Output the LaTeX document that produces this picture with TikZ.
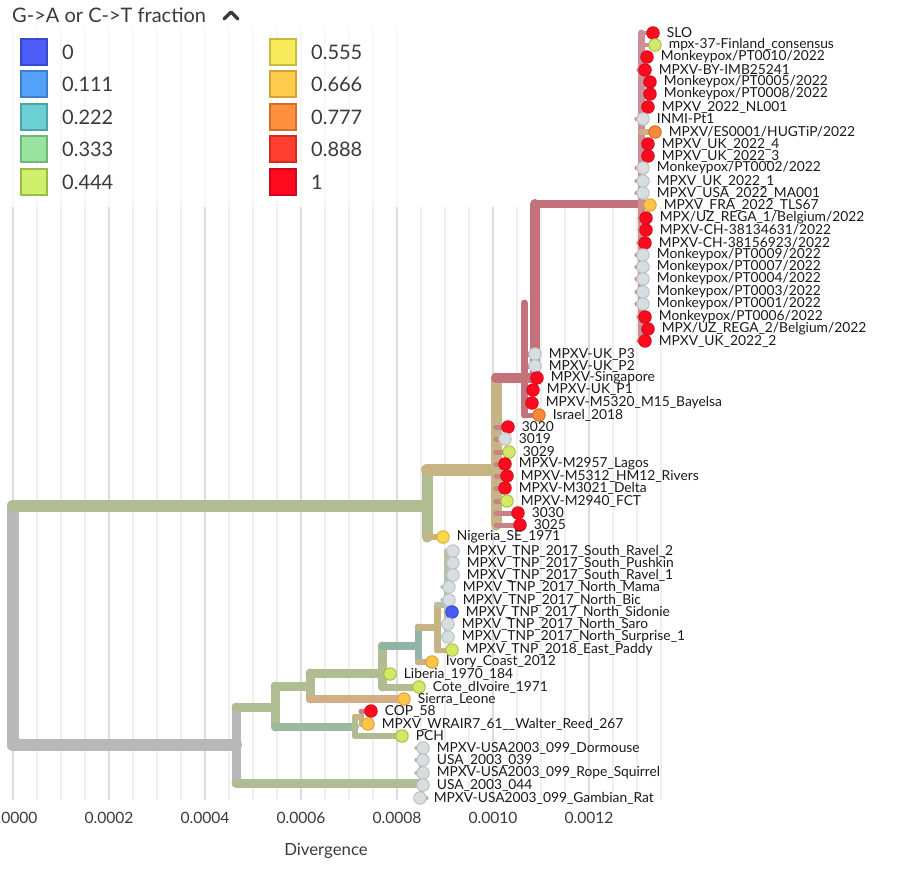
\documentclass[tikz,border=0pt]{standalone}
\usepackage{fontspec}
\setmainfont{Lato}
\usepackage{tikz}
\usetikzlibrary{positioning,backgrounds}

\definecolor{gridmaj}{HTML}{DCDCDC}
\definecolor{gridmin}{HTML}{EFEFEF}
\definecolor{txt}{HTML}{1A1A1A}
\definecolor{axtxt}{HTML}{3A3A3A}
% branch colours
\definecolor{bgray}{HTML}{B8B8BA}
\definecolor{bsage}{HTML}{B0BD93}
\definecolor{btan}{HTML}{C7B485}
\definecolor{brose}{HTML}{C3717A}
\definecolor{bpale}{HTML}{CB8F95}
\definecolor{bpink}{HTML}{C98088}
\definecolor{bteal}{HTML}{93B3A6}
\definecolor{btsage}{HTML}{9EB89E}
\definecolor{bpeach}{HTML}{D2AE86}
\definecolor{blsage}{HTML}{B5C2A6}
% tip colours
\definecolor{cred}{HTML}{FE0A1F}   \definecolor{credb}{HTML}{D50A1A}
\definecolor{cgr}{HTML}{D8DDE0}    \definecolor{cgrb}{HTML}{B9C0C5}
\definecolor{cyg}{HTML}{D2E868}    \definecolor{cygb}{HTML}{A9BA3F}
\definecolor{cyel}{HTML}{F9D84A}   \definecolor{cyelb}{HTML}{D7B02E}
\definecolor{cora}{HTML}{FCC448}   \definecolor{corab}{HTML}{DDA030}
\definecolor{cor7}{HTML}{FA8A38}   \definecolor{cor7b}{HTML}{D86A20}
\definecolor{cblu}{HTML}{4A5CF2}   \definecolor{cblub}{HTML}{3446C8}
% legend colours
\definecolor{l0}{HTML}{4C5CF6}   \definecolor{l0b}{HTML}{3A49C8}
\definecolor{l1}{HTML}{54A2F8}   \definecolor{l1b}{HTML}{3E7FCB}
\definecolor{l2}{HTML}{6BCFD4}   \definecolor{l2b}{HTML}{4FA3A5}
\definecolor{l3}{HTML}{98E39E}   \definecolor{l3b}{HTML}{72B77A}
\definecolor{l4}{HTML}{CFF06C}   \definecolor{l4b}{HTML}{9DBB47}
\definecolor{l5}{HTML}{F6EA5A}   \definecolor{l5b}{HTML}{C8BB3D}
\definecolor{l6}{HTML}{FECB4C}   \definecolor{l6b}{HTML}{D4A232}
\definecolor{l7}{HTML}{FE913E}   \definecolor{l7b}{HTML}{D26E28}
\definecolor{l8}{HTML}{FF3E2F}   \definecolor{l8b}{HTML}{D22A20}
\definecolor{l9}{HTML}{FF0A1E}   \definecolor{l9b}{HTML}{D0061A}

\begin{document}
\begin{tikzpicture}[
    x=1pt,y=-1pt,
    br/.style={line width=#1, line cap=round},
    tip/.style={circle,draw,inner sep=0pt,minimum size=12.5pt,line width=0.9pt},
    tipred/.style={tip,fill=cred,draw=credb},
    tipgray/.style={tip,fill=cgr,draw=cgrb},
    tipyg/.style={tip,fill=cyg,draw=cygb},
    tipyel/.style={tip,fill=cyel,draw=cyelb},
    tipora/.style={tip,fill=cora,draw=corab},
    tipor7/.style={tip,fill=cor7,draw=cor7b},
    tipblue/.style={tip,fill=cblu,draw=cblub},
    lab/.style={font=\fontsize{13.8}{13.8}\selectfont,text=txt,inner sep=1pt,xshift=6pt},
    sw/.style={rectangle,minimum size=26pt,inner sep=0pt,line width=2pt},
    leg/.style={font=\fontsize{20}{20}\selectfont,text=axtxt,inner sep=1pt},
    tick/.style={font=\fontsize{15.6}{15.6}\selectfont,text=axtxt,inner sep=0pt}
    ]
    \useasboundingbox (0,0) rectangle (914,875);
    \clip (0,0) rectangle (914,875);

    % legend
    \node[font=\fontsize{20}{20}\selectfont,text=axtxt,anchor=west,inner sep=0pt] (ttl) at (12,15) {G->A or C->T fraction};
    \draw[line width=3.5pt,line cap=round,line join=round,axtxt] (224,19) -- (231,12) -- (238,19);
    \node[sw,fill=l0,draw=l0b] (sw0) at (34,52) {};
    \node[sw,fill=l1,draw=l1b] (sw1) at (34,84) {};
    \node[sw,fill=l2,draw=l2b] (sw2) at (34,117) {};
    \node[sw,fill=l3,draw=l3b] (sw3) at (34,149) {};
    \node[sw,fill=l4,draw=l4b] (sw4) at (34,182) {};
    \node[sw,fill=l5,draw=l5b] (sw5) at (283,52) {};
    \node[sw,fill=l6,draw=l6b] (sw6) at (283,84) {};
    \node[sw,fill=l7,draw=l7b] (sw7) at (283,117) {};
    \node[sw,fill=l8,draw=l8b] (sw8) at (283,149) {};
    \node[sw,fill=l9,draw=l9b] (sw9) at (283,182) {};
    \foreach \i/\t in {0/0,1/0.111,2/0.222,3/0.333,4/0.444,5/0.555,6/0.666,7/0.777,8/0.888,9/1}
      \node[leg,right=13pt of sw\i] (lg\i) {\t};

    % 2022 clade
    \node[tipred,label={[lab]right:SLO}] (slo) at (653,33) {};
    \node[tipyg,label={[lab]right:mpx-37-Finland\_consensus}] (fin) at (655,45) {};
    \node[tipred,label={[lab]right:Monkeypox/PT0010/2022}] (pt10) at (647,57) {};
    \node[tipred,label={[lab]right:MPXV-BY-IMB25241}] (by) at (645,70) {};
    \node[tipred,label={[lab]right:Monkeypox/PT0005/2022}] (pt05) at (650,82) {};
    \node[tipred,label={[lab]right:Monkeypox/PT0008/2022}] (pt08) at (650,94) {};
    \node[tipred,label={[lab]right:MPXV\_2022\_NL001}] (nl) at (648,107) {};
    \node[tipgray,label={[lab]right:INMI-Pt1}] (inmi) at (643,119) {};
    \node[tipor7,label={[lab]right:MPXV/ES0001/HUGTiP/2022}] (es) at (655,132) {};
    \node[tipred,label={[lab]right:MPXV\_UK\_2022\_4}] (uk4) at (648,144) {};
    \node[tipred,label={[lab]right:MPXV\_UK\_2022\_3}] (uk3) at (648,156) {};
    \node[tipgray,label={[lab]right:Monkeypox/PT0002/2022}] (pt02) at (643,168) {};
    \node[tipgray,label={[lab]right:MPXV\_UK\_2022\_1}] (uk1) at (643,181) {};
    \node[tipgray,label={[lab]right:MPXV\_USA\_2022\_MA001}] (usa22) at (643,193) {};
    \node[tipora,label={[lab]right:MPXV\_FRA\_2022\_TLS67}] (fra) at (650,205) {};
    \node[tipred,label={[lab]right:MPX/UZ\_REGA\_1/Belgium/2022}] (uz1) at (646,218) {};
    \node[tipred,label={[lab]right:MPXV-CH-38134631/2022}] (ch1) at (646,230) {};
    \node[tipred,label={[lab]right:MPXV-CH-38156923/2022}] (ch2) at (645,243) {};
    \node[tipgray,label={[lab]right:Monkeypox/PT0009/2022}] (pt09) at (643,255) {};
    \node[tipgray,label={[lab]right:Monkeypox/PT0007/2022}] (pt07) at (643,267) {};
    \node[tipgray,label={[lab]right:Monkeypox/PT0004/2022}] (pt04) at (643,279) {};
    \node[tipgray,label={[lab]right:Monkeypox/PT0003/2022}] (pt03) at (643,292) {};
    \node[tipgray,label={[lab]right:Monkeypox/PT0001/2022}] (pt01) at (643,304) {};
    \node[tipred,label={[lab]right:Monkeypox/PT0006/2022}] (pt06) at (645,317) {};
    \node[tipred,label={[lab]right:MPX/UZ\_REGA\_2/Belgium/2022}] (uz2) at (648,329) {};
    \node[tipred,label={[lab]right:MPXV\_UK\_2022\_2}] (uk2) at (645,341) {};

    % UK / Singapore / Bayelsa
    \node[tipgray,label={[lab]right:MPXV-UK\_P3}] (ukp3) at (535,354) {};
    \node[tipgray,label={[lab]right:MPXV-UK\_P2}] (ukp2) at (535,366) {};
    \node[tipred,label={[lab]right:MPXV-Singapore}] (sing) at (537,378) {};
    \node[tipred,label={[lab]right:MPXV-UK\_P1}] (ukp1) at (533,390) {};
    \node[tipred,label={[lab]right:MPXV-M5320\_M15\_Bayelsa}] (bay) at (532,403) {};
    \node[tipor7,label={[lab]right:Israel\_2018}] (isr) at (539,415) {};

    % Nigeria 2017-2018
    \node[tipred,label={[lab]right:3020}] (s3020) at (508,427) {};
    \node[tipgray,label={[lab]right:3019}] (s3019) at (505,439) {};
    \node[tipyg,label={[lab]right:3029}] (s3029) at (509,452) {};
    \node[tipred,label={[lab]right:MPXV-M2957\_Lagos}] (lag) at (505,464) {};
    \node[tipred,label={[lab]right:MPXV-M5312\_HM12\_Rivers}] (riv) at (507,476) {};
    \node[tipred,label={[lab]right:MPXV-M3021\_Delta}] (del) at (505,488) {};
    \node[tipyg,label={[lab]right:MPXV-M2940\_FCT}] (fct) at (507,501) {};
    \node[tipred,label={[lab]right:3030}] (s3030) at (518,513) {};
    \node[tipred,label={[lab]right:3025}] (s3025) at (520,525) {};
    \node[tipyel,label={[lab]right:Nigeria\_SE\_1971}] (nig) at (443,537) {};

    % TNP and older West African
    \node[tipgray,label={[lab]right:MPXV\_TNP\_2017\_South\_Ravel\_2}] (rav2) at (453,551) {};
    \node[tipgray,label={[lab]right:MPXV\_TNP\_2017\_South\_Pushkin}] (push) at (453,563) {};
    \node[tipgray,label={[lab]right:MPXV\_TNP\_2017\_South\_Ravel\_1}] (rav1) at (453,575) {};
    \node[tipgray,label={[lab]right:MPXV\_TNP\_2017\_North\_Mama}] (mama) at (449,587) {};
    \node[tipgray,label={[lab]right:MPXV\_TNP\_2017\_North\_Bic}] (bic) at (449,600) {};
    \node[tipblue,label={[lab]right:MPXV\_TNP\_2017\_North\_Sidonie}] (sid) at (452,612) {};
    \node[tipgray,label={[lab]right:MPXV\_TNP\_2017\_North\_Saro}] (saro) at (448,624) {};
    \node[tipgray,label={[lab]right:MPXV\_TNP\_2017\_North\_Surprise\_1}] (surp) at (448,637) {};
    \node[tipyg,label={[lab]right:MPXV\_TNP\_2018\_East\_Paddy}] (pad) at (452,650) {};
    \node[tipora,label={[lab]right:Ivory\_Coast\_2012}] (ivo) at (432,662) {};
    \node[tipyg,label={[lab]right:Liberia\_1970\_184}] (lib) at (390,674) {};
    \node[tipyg,label={[lab]right:Cote\_dIvoire\_1971}] (cote) at (419,687) {};
    \node[tipora,label={[lab]right:Sierra\_Leone}] (sier) at (404,699) {};
    \node[tipred,label={[lab]right:COP\_58}] (cop) at (371,711) {};
    \node[tipora,label={[lab]right:MPXV\_WRAIR7\_61\_\_Walter\_Reed\_267}] (wr) at (368,724) {};
    \node[tipyg,label={[lab]right:PCH}] (pch) at (402,736) {};

    % USA 2003
    \node[tipgray,label={[lab]right:MPXV-USA2003\_099\_Dormouse}] (dor) at (423,748) {};
    \node[tipgray,label={[lab]right:USA\_2003\_039}] (u039) at (423,760) {};
    \node[tipgray,label={[lab]right:MPXV-USA2003\_099\_Rope\_Squirrel}] (rope) at (423,773) {};
    \node[tipgray,label={[lab]right:USA\_2003\_044}] (u044) at (423,785) {};
    \node[tipgray,label={[lab]right:MPXV-USA2003\_099\_Gambian\_Rat}] (gam) at (420,798) {};

    % axis
    \foreach \k/\t in {0/0.0000,1/0.0002,2/0.0004,3/0.0006,4/0.0008,5/0.0010,6/0.0012}
      \node[tick] (tk\k) at (13+96*\k,818) {\t};
    \node[tick,font=\fontsize{16.8}{16.8}\selectfont] (dvg) at (326,851) {Divergence};

    % internal nodes
    \coordinate (root) at (13,620);
    \coordinate (n1) at (427,506);
    \coordinate (n2) at (496,470);
    \coordinate (nb) at (535,378);
    \coordinate (na) at (524,303);
    \coordinate (nc) at (641,204);
    \coordinate (ng) at (236,745);
    \coordinate (nu) at (421,783);
    \coordinate (nh) at (275,707);
    \coordinate (nl0) at (310,686);
    \coordinate (nl1) at (382,673);
    \coordinate (nt1) at (418,646);
    \coordinate (nt2) at (437,627);
    \coordinate (nt3) at (446,605);
    \coordinate (nk) at (355,727);
    \coordinate (nq) at (361,717);

    \begin{pgfonlayer}{background}
      % grid
      \foreach \x in {13,37,...,397}
        \draw[line width=1.3pt,black!3] (\x,30) -- (\x,207);
      \foreach \x in {13,37,...,661}
        \draw[line width=1.3pt,gridmin] (\x,207) -- (\x,800);
      \foreach \x in {13,109,...,589}
        \draw[line width=2.5pt,gridmaj] (\x,207) -- (\x,800);

      % root
      \draw[br=12pt,bgray] (root |- n1) -- (root |- ng);
      \draw[br=12pt,bsage] (root |- n1) -- (n1);
      \draw[br=12pt,bgray] (root |- ng) -- (ng);

      % upper half
      \draw[br=11pt,bsage] (n1 |- n2) -- (n1 |- nig);
      \draw[br=12pt,btan] (n1 |- n2) -- (n2);
      \draw[br=6pt,btan] (n1 |- nig) -- (nig);
      \draw[br=11pt,btan] (n2 |- nb) -- (n2 |- s3025);
      \draw[br=10pt,brose] (n2 |- nb) -- (nb);
      \draw[br=10pt,brose] (nb |- nc) -- (nb);
      \draw[br=8pt,brose] (nb |- nc) -- (nc);
      \draw[br=7pt,bpale] (nc |- slo) -- (nc |- uk2);
      \foreach \t in {slo,fin,pt10,by,pt05,pt08,nl,inmi,uk4,uk3,pt02,uk1,usa22,fra,uz1,ch1,ch2,pt09,pt07,pt04,pt03,pt01,pt06,uz2,uk2}
        \draw[br=4pt,bpale] (nc |- \t) -- (\t);
      \draw[br=5pt,bpeach] (nc |- es) -- (es);
      \draw[br=7pt,brose] (na) -- (na |- isr);
      \foreach \t in {ukp3,ukp2,sing,ukp1,bay,isr}
        \draw[br=5pt,brose] (na |- \t) -- (\t);
      \foreach \t in {s3020,s3019,s3029,lag,riv,del,fct,s3030,s3025}
        \draw[br=5pt,bpink] (n2 |- \t) -- (\t);

      % lower half
      \draw[br=9pt,bgray] (ng |- nh) -- (ng |- nu);
      \draw[br=9pt,bsage] (ng |- nu) -- (nu);
      \draw[br=5pt,bsage] (nu |- dor) -- (nu |- gam);
      \foreach \t in {dor,u039,rope,u044,gam}
        \draw[br=4pt,bsage] (nu |- \t) -- (\t);
      \draw[br=9pt,bsage] (ng |- nh) -- (nh);
      \draw[br=9pt,bsage] (nh |- nl0) -- (nh |- nk);
      \draw[br=9pt,bsage] (nh |- nl0) -- (nl0);
      \draw[br=9pt,bsage] (nl0 |- nl1) -- (nl0 |- sier);
      \draw[br=9pt,bsage] (nl0 |- nl1) -- (nl1);
      \draw[br=8pt,bpeach] (nl0 |- sier) -- (sier);
      \draw[br=9pt,bsage] (nl1 |- nt1) -- (nl1 |- cote);
      \draw[br=8pt,bteal] (nl1 |- nt1) -- (nt1);
      \draw[br=6pt,bsage] (nl1 |- lib) -- (lib);
      \draw[br=7pt,bsage] (nl1 |- cote) -- (cote);
      \draw[br=7pt,bteal] (nt1 |- nt2) -- (nt1 |- ivo);
      \draw[br=7pt,btan] (nt1 |- nt2) -- (nt2);
      \draw[br=6pt,btan] (nt1 |- ivo) -- (ivo);
      \draw[br=7pt,btan] (nt2 |- nt3) -- (nt2 |- pad);
      \draw[br=6pt,blsage] (nt2 |- nt3) -- (nt3);
      \draw[br=5pt,btan] (nt2 |- pad) -- (pad);
      \draw[br=5pt,blsage] (nt3 |- rav2) -- (nt3 |- surp);
      \foreach \t in {rav2,push,rav1,mama,bic,sid,saro,surp}
        \draw[br=4pt,blsage] (nt3 |- \t) -- (\t);
      \draw[br=8pt,btsage] (nh |- nk) -- (nk);
      \draw[br=6pt,bsage] (nk |- nq) -- (nk |- pch);
      \draw[br=6pt,bsage] (nk |- pch) -- (pch);
      \draw[br=6pt,btan] (nk |- nq) -- (nq);
      \draw[br=5pt,btan] (nq |- cop) -- (nq |- wr);
      \draw[br=5pt,bpink] (nq |- cop) -- (cop);
      \draw[br=5pt,btan] (nq |- wr) -- (wr);
    \end{pgfonlayer}
  \end{tikzpicture}
\end{document}
